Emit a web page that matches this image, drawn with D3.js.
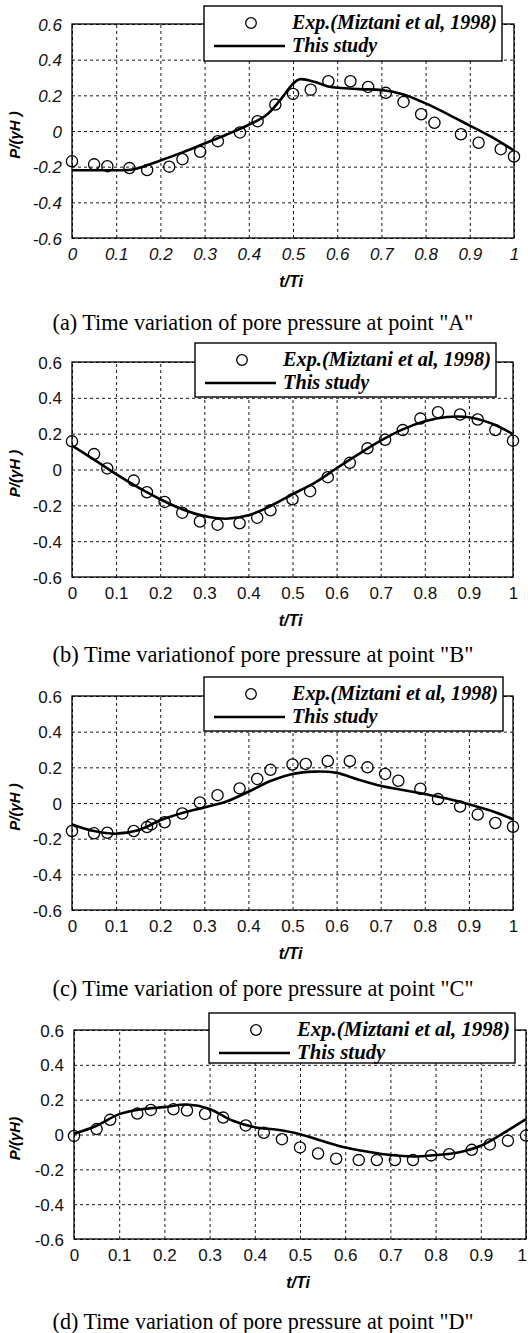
<!DOCTYPE html>
<html>
<head>
<meta charset="utf-8">
<script src="https://cdn.jsdelivr.net/npm/d3@7"></script>
<style>
  html, body { margin: 0; padding: 0; background: #fff; }
  svg { display: block; }
</style>
</head>
<body>
<svg id="chart" width="528" height="1333"></svg>
<script>
// ---------------- data ----------------
const xTicks = [0, 0.1, 0.2, 0.3, 0.4, 0.5, 0.6, 0.7, 0.8, 0.9, 1];
const xTickLabels = ["0", "0.1", "0.2", "0.3", "0.4", "0.5", "0.6", "0.7", "0.8", "0.9", "1"];
const yTicks = [-0.6, -0.4, -0.2, 0, 0.2, 0.4, 0.6];
const yTickLabels = ["-0.6", "-0.4", "-0.2", "0", "0.2", "0.4", "0.6"];
const legendLabels = ["Exp.(Miztani et al, 1998)", "This study"];
const xAxisTitle = "t/Ti";
const yAxisTitles = ["P/(\u03B3H )", "P/(\u03B3H )", "P/(\u03B3H )", "P/(\u03B3H)"];
const captions = [
  '(a) Time variation of pore pressure at point "A"',
  '(b) Time variationof  pore pressure at point "B"',
  '(c) Time variation of pore pressure at point "C"',
  '(d) Time variation of pore pressure at point "D"'
];

// Panel A
const expA_t = [0, 0.05, 0.08, 0.13, 0.17, 0.22, 0.25, 0.29, 0.33, 0.38, 0.42, 0.46, 0.5, 0.54, 0.58, 0.63, 0.67, 0.71, 0.75, 0.79, 0.82, 0.88, 0.92, 0.97, 1.0];
const expA_p = [-0.17, -0.187, -0.197, -0.208, -0.219, -0.2, -0.158, -0.117, -0.057, -0.008, 0.055, 0.148, 0.208, 0.232, 0.279, 0.279, 0.247, 0.214, 0.163, 0.094, 0.046, -0.018, -0.066, -0.102, -0.143];
const simA_t = [0, 0.05, 0.1, 0.14, 0.2, 0.25, 0.3, 0.35, 0.4, 0.44, 0.47, 0.5, 0.515, 0.55, 0.58, 0.65, 0.7, 0.75, 0.8, 0.85, 0.9, 0.95, 1.0];
const simA_p = [-0.22, -0.22, -0.22, -0.215, -0.165, -0.12, -0.07, -0.02, 0.035, 0.09, 0.17, 0.265, 0.29, 0.275, 0.25, 0.235, 0.23, 0.205, 0.155, 0.095, 0.03, -0.035, -0.11];

// Panel B
const expB_t = [0, 0.05, 0.08, 0.14, 0.17, 0.21, 0.25, 0.29, 0.33, 0.38, 0.42, 0.45, 0.5, 0.54, 0.58, 0.63, 0.67, 0.71, 0.75, 0.79, 0.83, 0.88, 0.92, 0.96, 1.0];
const expB_p = [0.157, 0.086, 0.006, -0.062, -0.127, -0.181, -0.241, -0.29, -0.308, -0.3, -0.269, -0.228, -0.166, -0.121, -0.043, 0.037, 0.118, 0.166, 0.22, 0.284, 0.32, 0.307, 0.279, 0.22, 0.161];
const simB_t = [0, 0.05, 0.1, 0.15, 0.2, 0.25, 0.3, 0.35, 0.4, 0.45, 0.5, 0.55, 0.6, 0.65, 0.7, 0.75, 0.8, 0.85, 0.9, 0.95, 1.0];
const simB_p = [0.133, 0.055, -0.026, -0.1, -0.166, -0.222, -0.26, -0.275, -0.256, -0.204, -0.138, -0.075, 0.007, 0.086, 0.161, 0.224, 0.269, 0.293, 0.292, 0.258, 0.198];

// Panel C
const expC_t = [0, 0.05, 0.08, 0.14, 0.17, 0.18, 0.21, 0.25, 0.29, 0.33, 0.38, 0.42, 0.45, 0.5, 0.53, 0.58, 0.63, 0.67, 0.71, 0.74, 0.79, 0.83, 0.88, 0.92, 0.96, 1.0];
const expC_p = [-0.157, -0.17, -0.167, -0.157, -0.135, -0.12, -0.108, -0.059, 0.003, 0.044, 0.082, 0.135, 0.186, 0.216, 0.219, 0.235, 0.235, 0.2, 0.163, 0.125, 0.08, 0.022, -0.02, -0.065, -0.112, -0.133];
const simC_t = [0, 0.05, 0.1, 0.15, 0.2, 0.25, 0.3, 0.35, 0.4, 0.45, 0.5, 0.55, 0.6, 0.65, 0.7, 0.75, 0.8, 0.85, 0.9, 0.95, 1.0];
const simC_p = [-0.12, -0.157, -0.172, -0.153, -0.097, -0.056, -0.025, 0.008, 0.063, 0.123, 0.163, 0.176, 0.169, 0.131, 0.097, 0.073, 0.05, 0.025, -0.007, -0.044, -0.091];

// Panel D
const expD_t = [0, 0.05, 0.08, 0.14, 0.17, 0.22, 0.25, 0.29, 0.33, 0.38, 0.42, 0.46, 0.5, 0.54, 0.58, 0.63, 0.67, 0.71, 0.75, 0.79, 0.83, 0.88, 0.92, 0.96, 1.0];
const expD_p = [-0.008, 0.031, 0.084, 0.12, 0.141, 0.145, 0.138, 0.118, 0.097, 0.052, 0.01, -0.027, -0.074, -0.109, -0.139, -0.147, -0.147, -0.147, -0.147, -0.12, -0.113, -0.088, -0.057, -0.036, -0.006];
const simD_t = [0, 0.05, 0.1, 0.15, 0.2, 0.25, 0.3, 0.35, 0.4, 0.45, 0.5, 0.55, 0.6, 0.65, 0.7, 0.75, 0.8, 0.85, 0.9, 0.95, 1.0];
const simD_p = [0.004, 0.05, 0.117, 0.145, 0.157, 0.172, 0.147, 0.08, 0.042, 0.027, 0.002, -0.038, -0.075, -0.099, -0.118, -0.126, -0.118, -0.103, -0.065, 0.008, 0.088];

// ---------------- layout ----------------
const panels = [
  { expT: expA_t, expP: expA_p, simT: simA_t, simP: simA_p, left: 72, right: 514, top: 24, bottom: 238, legend: { x: 204, y: 6, w: 298, h: 55 }, tickItalic: true, capY: 330 },
  { expT: expB_t, expP: expB_p, simT: simB_t, simP: simB_p, left: 72, right: 513, top: 362, bottom: 577, legend: { x: 195, y: 343, w: 301, h: 54 }, tickItalic: false, capY: 662 },
  { expT: expC_t, expP: expC_p, simT: simC_t, simP: simC_p, left: 72, right: 513, top: 696, bottom: 910, legend: { x: 204, y: 677, w: 299, h: 54 }, tickItalic: false, capY: 996 },
  { expT: expD_t, expP: expD_p, simT: simD_t, simP: simD_p, left: 74, right: 526, top: 1030, bottom: 1239, legend: { x: 209, y: 1013, w: 306, h: 50 }, tickItalic: false, capY: 1329 }
];

const svg = d3.select("#chart");
const sans = "'Liberation Sans', Arial, sans-serif";
const serif = "'Liberation Serif', 'Times New Roman', serif";

function fitText(sel, target, base) {
  const w = sel.node().getComputedTextLength();
  sel.attr("font-size", (base * target / w).toFixed(2));
}

panels.forEach((p, i) => {
  const g = svg.append("g");
  const x = d3.scaleLinear().domain([0, 1]).range([p.left, p.right]);
  const y = d3.scaleLinear().domain([-0.6, 0.6]).range([p.bottom, p.top]);

  // grid
  const gx = g.append("g").attr("transform", `translate(0,${p.bottom})`)
    .call(d3.axisBottom(x).tickValues(xTicks).tickSize(-(p.bottom - p.top)).tickFormat(""));
  const gy = g.append("g").attr("transform", `translate(${p.left},0)`)
    .call(d3.axisLeft(y).tickValues(yTicks).tickSize(-(p.right - p.left)).tickFormat(""));
  [gx, gy].forEach(a => {
    a.select(".domain").remove();
    a.selectAll(".tick line").attr("stroke", "#000").attr("stroke-width", 0.9).attr("stroke-dasharray", "3,3");
  });

  // tick labels
  const lx = g.append("g").attr("transform", `translate(0,${p.bottom + 4})`)
    .call(d3.axisBottom(x).tickValues(xTicks).tickSize(0).tickPadding(6).tickFormat((d, k) => xTickLabels[k]));
  const ly = g.append("g").attr("transform", `translate(${p.left - 4},0)`)
    .call(d3.axisLeft(y).tickValues(yTicks).tickSize(0).tickPadding(6).tickFormat((d, k) => yTickLabels[k]));
  [lx, ly].forEach(a => {
    a.select(".domain").remove();
    a.selectAll("text").attr("fill", "#111").attr("font-family", sans).attr("font-size", 17)
      .attr("font-style", p.tickItalic ? "italic" : "normal");
  });
  ly.selectAll("text").attr("dy", "0.36em");
  // keep the last x label inside the page
  lx.selectAll("text").each(function () {
    const bb = this.getBBox();
    const tr = this.parentNode.transform.baseVal.consolidate().matrix.e;
    const over = tr + bb.x + bb.width - 527;
    if (over > 0) d3.select(this).attr("x", -over);
  });

  // frame
  g.append("rect").attr("x", p.left).attr("y", p.top)
    .attr("width", p.right - p.left).attr("height", p.bottom - p.top)
    .attr("fill", "none").attr("stroke", "#000").attr("stroke-width", 1.3);

  // simulation line
  const simData = p.simT.map((t, k) => [t, p.simP[k]]);
  g.append("path").datum(simData)
    .attr("d", d3.line().x(d => x(d[0])).y(d => y(d[1])).curve(d3.curveCatmullRom.alpha(0.5)))
    .attr("fill", "none").attr("stroke", "#000").attr("stroke-width", 2.6);

  // experimental circles
  const expData = p.expT.map((t, k) => [t, p.expP[k]]);
  g.append("g").selectAll("circle").data(expData).join("circle")
    .attr("cx", d => x(d[0])).attr("cy", d => y(d[1])).attr("r", 5.6)
    .attr("fill", "none").attr("stroke", "#000").attr("stroke-width", 1.3);

  // legend
  const L = p.legend;
  const lg = g.append("g");
  lg.append("rect").attr("x", L.x).attr("y", L.y).attr("width", L.w).attr("height", L.h)
    .attr("fill", "#fff").attr("stroke", "#000").attr("stroke-width", 1.4);
  lg.append("circle").attr("cx", L.x + 47).attr("cy", L.y + 17).attr("r", 5.3)
    .attr("fill", "none").attr("stroke", "#000").attr("stroke-width", 1.3);
  lg.append("line").attr("x1", L.x + 10).attr("x2", L.x + 81).attr("y1", L.y + 40).attr("y2", L.y + 40)
    .attr("stroke", "#000").attr("stroke-width", 2.6);
  const t1 = lg.append("text").attr("x", L.x + 88).attr("y", L.y + 23).text(legendLabels[0])
    .attr("font-family", serif).attr("font-weight", "bold").attr("font-style", "italic").attr("font-size", 17);
  fitText(t1, L.w - 93, 17);
  const fs = t1.attr("font-size");
  lg.append("text").attr("x", L.x + 88).attr("y", L.y + 46).text(legendLabels[1])
    .attr("font-family", serif).attr("font-weight", "bold").attr("font-style", "italic").attr("font-size", fs);

  // axis titles
  g.append("text").attr("x", (p.left + p.right) / 2 - 2).attr("y", p.bottom + 49)
    .attr("text-anchor", "middle").text(xAxisTitle)
    .attr("font-family", sans).attr("font-weight", "bold").attr("font-style", "italic").attr("font-size", 16);
  g.append("text").attr("transform", `translate(20,${(p.top + p.bottom) / 2 + 4}) rotate(-90)`)
    .attr("text-anchor", "middle").text(yAxisTitles[i])
    .attr("font-family", sans).attr("font-weight", "bold").attr("font-style", "italic").attr("font-size", 15);

  // caption
  const cap = g.append("text").attr("x", 263).attr("y", p.capY).attr("text-anchor", "middle")
    .text(captions[i]).attr("font-family", serif).attr("font-size", 18);
  fitText(cap, 421, 18);
});
</script>
</body>
</html>
